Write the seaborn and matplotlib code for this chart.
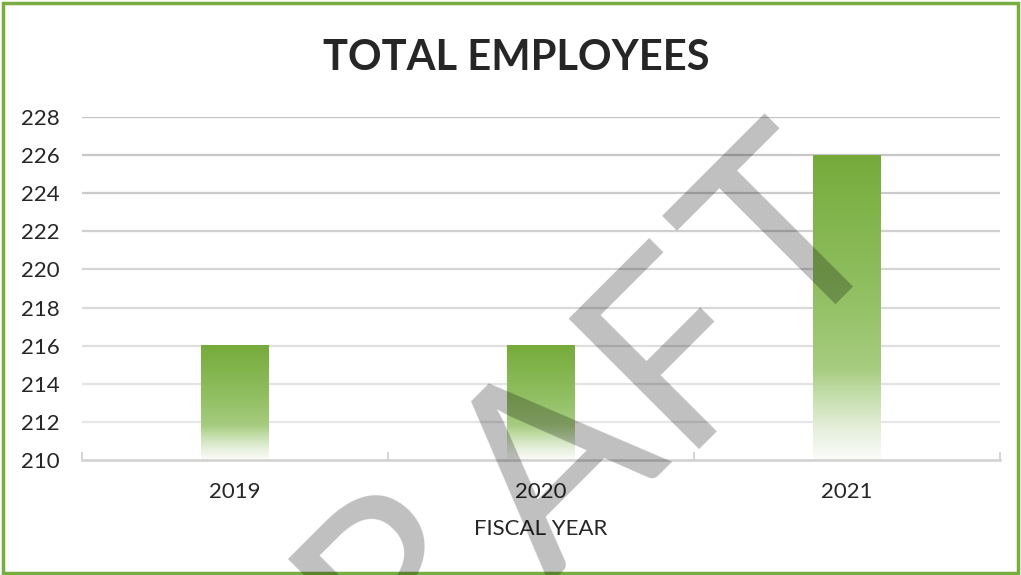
import numpy as np
import pandas as pd
import matplotlib
matplotlib.use("Agg")
import matplotlib.pyplot as plt
from matplotlib.colors import LinearSegmentedColormap, to_rgb
from matplotlib.patches import Rectangle
import seaborn as sns

# ---- data ----
years = ["2019", "2020", "2021"]
employees = [216, 216, 226]
y_ticks = [210, 212, 214, 216, 218, 220, 222, 224, 226, 228]
title_text = "TOTAL EMPLOYEES"
x_label = "FISCAL YEAR"
watermark = "DRAFT"
# baseline-centre of each watermark letter, in pixels from top-left
wm_px = [(318, 770), (452, 632), (611, 524), (727, 398), (843, 293)]

W, H = 1021, 575

sns.set_theme(style="white")
plt.rcParams["font.family"] = ["Lato", "DejaVu Sans"]

df = pd.DataFrame({"year": years, "employees": employees})

fig = plt.figure(figsize=(W / 100, H / 100), dpi=100)
ax = fig.add_axes([0.0803, 0.2, 0.8991, 0.5965])

sns.barplot(data=df, x="year", y="employees", ax=ax, width=0.22,
            color="#76ab3b", saturation=1, zorder=2)

ymin, ymax = 210, 228

# gradient fill for bars
cmap = LinearSegmentedColormap.from_list(
    "g",
    [(0.0, "#fbfcf9"), (0.10, "#e6efdc"), (0.20, "#c8e0b0"),
     (0.30, "#a6cc7f"), (0.55, "#91bf62"), (1.0, "#76ab3b")])
grad = cmap(np.linspace(0, 1, 256))[:, None, :]
for p in list(ax.patches):
    x0, w = p.get_x(), p.get_width()
    h = p.get_height()
    ax.imshow(grad, extent=[x0, x0 + w, ymin, h], origin="lower",
              aspect="auto", zorder=2, interpolation="bilinear")
    p.set_facecolor("none")
    p.set_edgecolor("none")
ax.set_ylim(ymin, ymax)
ax.set_xlim(-0.5, len(years) - 0.5)

# gridlines (darker at top, lighter at bottom)
top_c = np.array(to_rgb("#c2c2c6"))
bot_c = np.array(to_rgb("#ececec"))
for t in y_ticks[1:]:
    f = (t - ymin) / (ymax - ymin)
    ax.axhline(t, color=bot_c + (top_c - bot_c) * f, lw=1.6, zorder=1)

ax.set_yticks(y_ticks)
ax.tick_params(axis="y", length=0, pad=16, labelsize=16, labelcolor="#262626")
ax.tick_params(axis="x", length=0, pad=16, labelsize=16, labelcolor="#262626")
ax.set_xticks(range(len(years)))
ax.set_xticklabels(years)

# category boundary ticks
ax.set_xticks(np.arange(-0.5, len(years)), minor=True)
ax.tick_params(axis="x", which="minor", direction="in", length=6,
               width=1.2, color="#d0d0d0", bottom=True)

for s in ["top", "right", "left"]:
    ax.spines[s].set_visible(False)
ax.spines["bottom"].set_color("#d0d0d0")
ax.spines["bottom"].set_linewidth(1.8)
ax.spines["bottom"].set_zorder(3)

ax.set_xlabel(x_label, fontsize=16, color="#262626", labelpad=12)
ax.set_ylabel("")

fig.text(0.5055, 0.899, title_text, ha="center", va="center",
         fontsize=30, fontweight="bold", color="#262626")

# watermark, one letter at a time along a 45 degree line
for ch, (px, py) in zip(watermark, wm_px):
    fig.text(px / W, 1 - py / H, ch, rotation=45, rotation_mode="anchor",
             ha="center", va="baseline", fontsize=186, fontweight="normal",
             color="black", alpha=0.25, zorder=10)

# figure border
fig.patches.append(Rectangle((0.003, 0.003), 0.994, 0.992,
                             transform=fig.transFigure, fill=False,
                             edgecolor="#77ae3f", linewidth=2.5))

fig.savefig("out.png", dpi=100)
